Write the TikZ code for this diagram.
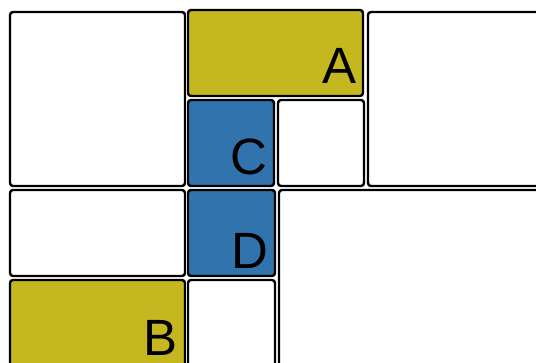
\documentclass[tikz,border=0pt]{standalone}
\usepackage{fontspec}
\setmainfont{Liberation Sans}
\usepackage{tikz}
\usetikzlibrary{positioning}
\tikzset{
  cell/.style = {draw=black, line width=2.4pt, rounded corners=3pt},
  halo/.style = {draw=white, line width=4pt, rounded corners=3pt},
  tag/.style = {anchor=base east, inner sep=0pt, font=\fontsize{51}{51}\selectfont},
}
\definecolor{olive}{HTML}{C4B71F}
\definecolor{steel}{HTML}{3174AD}

\begin{document}
\begin{tikzpicture}[x=1pt,y=-1pt]
  \useasboundingbox (0,0) rectangle (536,363);
  \clip (0,0) rectangle (536,363);

  \foreach \l/\t/\r/\b/\c/\n in {
    10/12/185/186/white/tl,
    188/10/363/96/olive/a,
    188/100/274/186/steel/c,
    278/100/364/186/white/cr,
    368/12/548/186/white/tr,
    10/190/185/276/white/ml,
    188/190/275/276/steel/d,
    279/190/548/375/white/br,
    10/280/185/375/olive/b,
    188/280/275/375/white/bm
  }{
    \path[halo] (\l,\t) rectangle (\r,\b);
    \path[cell, fill=\c] (\l,\t) rectangle (\r,\b);
  }

  \node[tag] (labA) at (357,84) {A};
  \node[tag] (labC) at (268,175) {C};
  \node[tag] (labD) at (269,269) {D};
  \node[tag] (labB) at (178,356) {B};
\end{tikzpicture}
\end{document}
